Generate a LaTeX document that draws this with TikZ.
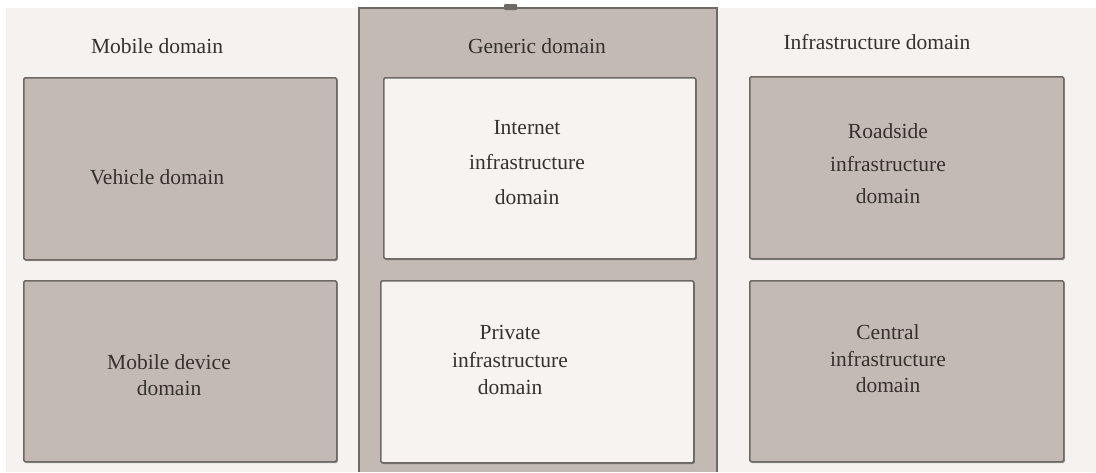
\documentclass[tikz,border=0pt]{standalone}
\usepackage{fontspec}
\setmainfont{Liberation Serif}
\usetikzlibrary{shadows}
\definecolor{pagebg}{HTML}{F5F2EF}
\definecolor{boxfill}{HTML}{C3BAB5}
\definecolor{boxedge}{HTML}{6E6965}
\definecolor{lightfill}{HTML}{F6F3F0}
\definecolor{ink}{HTML}{35312E}
\tikzset{
  domainbox/.style={draw=boxedge, line width=1.6pt, fill=boxfill,
    rounded corners=1.5pt, anchor=north west, inner sep=0pt,
    minimum width=313pt, minimum height=182pt,
    drop shadow={shadow xshift=1pt, shadow yshift=-1.2pt, opacity=.35, fill=black}},
  lightbox/.style={domainbox, fill=lightfill},
  caption/.style={text=ink, font=\fontsize{21.5}{26}\selectfont, align=center, inner sep=0pt},
  heading/.style={caption}
}
\begin{document}
\begin{tikzpicture}[x=1pt,y=-1pt]
  \useasboundingbox (0,0) rectangle (1096,472);
  % page and background
  \fill[white] (0,0) rectangle (1096,472);
  \fill[pagebg] (6,8) rectangle (1096,472);

  % generic domain column
  \fill[boxfill] (359,8) rectangle (717,472);
  \draw[boxedge, line width=2pt] (359,472) -- (359,8) -- (717,8) -- (717,472);
  \fill[boxedge, rounded corners=1pt] (504,4) rectangle (517,10);

  % column headings
  \node[heading] (hmob) at (157,46) {Mobile domain};
  \node[heading] (hgen) at (537,46) {Generic domain};
  \node[heading] (hinf) at (877,42) {Infrastructure domain};

  % mobile domain
  \node[domainbox] (veh) at (23,77) {};
  \node[domainbox, minimum height=181pt] (mdev) at (23,280) {};
  \node[caption] (tveh) at (157,177) {Vehicle domain};
  \node[caption, font=\fontsize{21.5}{26}\selectfont] (tmdev) at (169,375) {Mobile device\\domain};

  % generic domain
  \node[lightbox, minimum width=312pt, minimum height=181pt] (inet) at (383,77) {};
  \node[lightbox, minimum height=182pt] (priv) at (380,280) {};
  \node[caption, font=\fontsize{21.5}{35}\selectfont] (tinet) at (527,163) {Internet\\infrastructure\\domain};
  \node[caption, font=\fontsize{21.5}{27.5}\selectfont] (tpriv) at (510,360) {Private\\infrastructure\\domain};

  % infrastructure domain
  \node[domainbox, minimum width=314pt, minimum height=182pt] (road) at (749,76) {};
  \node[domainbox, minimum width=314pt, minimum height=181pt] (cent) at (749,280) {};
  \node[caption, font=\fontsize{21.5}{32.5}\selectfont] (troad) at (888,164) {Roadside\\infrastructure\\domain};
  \node[caption, font=\fontsize{21.5}{26.5}\selectfont] (tcent) at (888,359) {Central\\infrastructure\\domain};
\end{tikzpicture}
\end{document}
